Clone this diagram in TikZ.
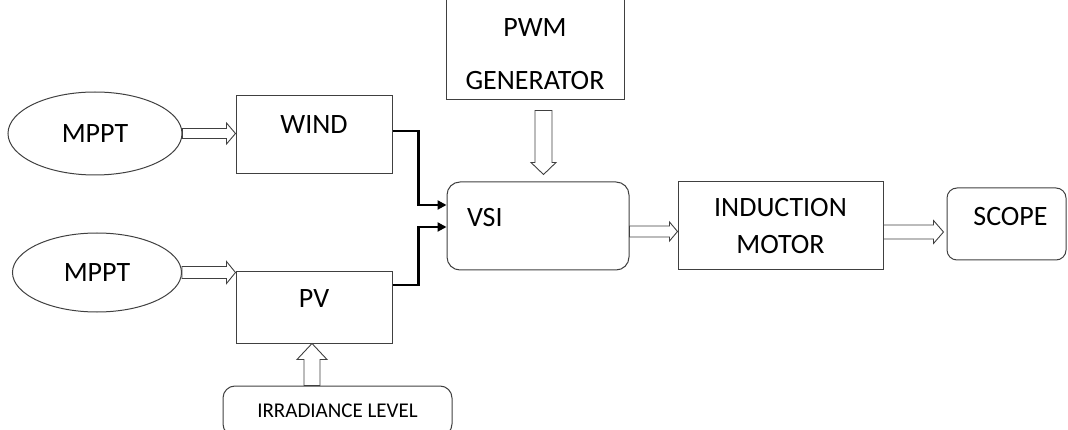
\documentclass[tikz,border=0pt]{standalone}
\usepackage{fontspec}
\setmainfont{Carlito}
\usetikzlibrary{shapes.geometric,arrows.meta,calc}

\tikzset{
  blk/.style={draw=black!75, line width=1pt, align=center, inner sep=0pt,
    font=\fontsize{28}{34}\selectfont},
  rblk/.style={blk, rounded corners=12pt},
  oval/.style={ellipse, draw=black!75, line width=1pt, inner sep=0pt,
    font=\fontsize{28}{34}\selectfont},
  conn/.style={line width=2.2pt, -{Triangle[length=9pt,width=9pt]}},
  % hollow block arrow: shaft half width, head half width, head length
  hollow/.style n args={3}{draw=black!75, line width=0.9pt, fill=white,
    to path={let \p1=(\tikztostart), \p2=(\tikztotarget),
      \n1={veclen(\x2-\x1,\y2-\y1)}, \n2={atan2(\y2-\y1,\x2-\x1)} in
      [shift={(\p1)}, rotate=\n2]
      (0pt,#1) -- ({\n1-#3},#1) -- ({\n1-#3},#2) -- ({\n1*1pt},0pt)
      -- ({\n1-#3},-#2) -- ({\n1-#3},-#1) -- (0pt,-#1) -- cycle}}
}

\begin{document}
\begin{tikzpicture}[x=1pt,y=-1pt]
    \useasboundingbox (0,0) rectangle (1068,430);
    \clip (0,0) rectangle (1068,430);

    % Sources and their MPPT
    \node[oval, minimum width=174pt, minimum height=83pt] (mppt1) at (95,133.5) {MPPT};
    \node[oval, minimum width=169pt, minimum height=79pt] (mppt2) at (97,272.5) {MPPT};
    \node[blk, minimum width=156pt, minimum height=78pt] (wind) at (314,135) {\raisebox{21pt}{WIND}};
    \node[blk, minimum width=156pt, minimum height=71pt] (pv) at (314,307.5) {\raisebox{18pt}{PV}};
    \node[rblk, minimum width=229pt, minimum height=50pt, font=\fontsize{21}{25}\selectfont] (irr) at (337.5,411) {IRRADIANCE LEVEL};

    % Inverter and load
    \node[blk, minimum width=178pt, minimum height=130pt] (pwm) at (535,35) {};
    \node[align=center, inner sep=0pt, font=\fontsize{28}{34}\selectfont] (pwmtxt) at (535,54.5) {PWM\\[19pt]GENERATOR};
    \node[rblk, rounded corners=13pt, minimum height=88pt, text width=142pt, inner xsep=20pt, align=left] (vsi) at (538,226) {\raisebox{17pt}{VSI}};
    \node[blk, minimum width=205pt, minimum height=88pt] (im) at (780.5,226) {INDUCTION\\[3pt]MOTOR};
    \node[rblk, rounded corners=10pt, minimum width=119pt, minimum height=72pt] (scope) at (1006.5,224) {\raisebox{15pt}{\hspace*{8pt}SCOPE}};

    % Hollow arrows
    \draw[hollow={5pt}{10.5pt}{9pt}] (mppt1.east) to (mppt1.east -| wind.west);
    \draw[hollow={6pt}{11pt}{9pt}] (mppt2.east) to (mppt2.east -| pv.west);
    \draw[hollow={8.5pt}{12.5pt}{12pt}] ([xshift=8.5pt,yshift=-10pt]pwm.south) to ([xshift=5.5pt,yshift=7pt]vsi.north);
    \draw[hollow={5.5pt}{9.5pt}{8pt}] ([yshift=-5.5pt]vsi.east) to ([yshift=-5.5pt]im.west);
    \draw[hollow={7pt}{11.5pt}{10pt}] ([yshift=-6pt]im.east) to ([yshift=-6pt,xshift=-3pt]im.east -| scope.west);
    \draw[hollow={8pt}{15pt}{16pt}] ([xshift=-25.5pt]irr.north) to ([xshift=-25.5pt]irr.north |- pv.south);

    % DC links to the inverter
    \draw[conn] ([yshift=4pt]wind.east) -- ++(26,0) |- ([yshift=21pt]vsi.west);
    \draw[conn] ([yshift=22.5pt]pv.east) -- ++(26,0) |- ([yshift=-1pt]vsi.west);

\end{tikzpicture}
\end{document}
